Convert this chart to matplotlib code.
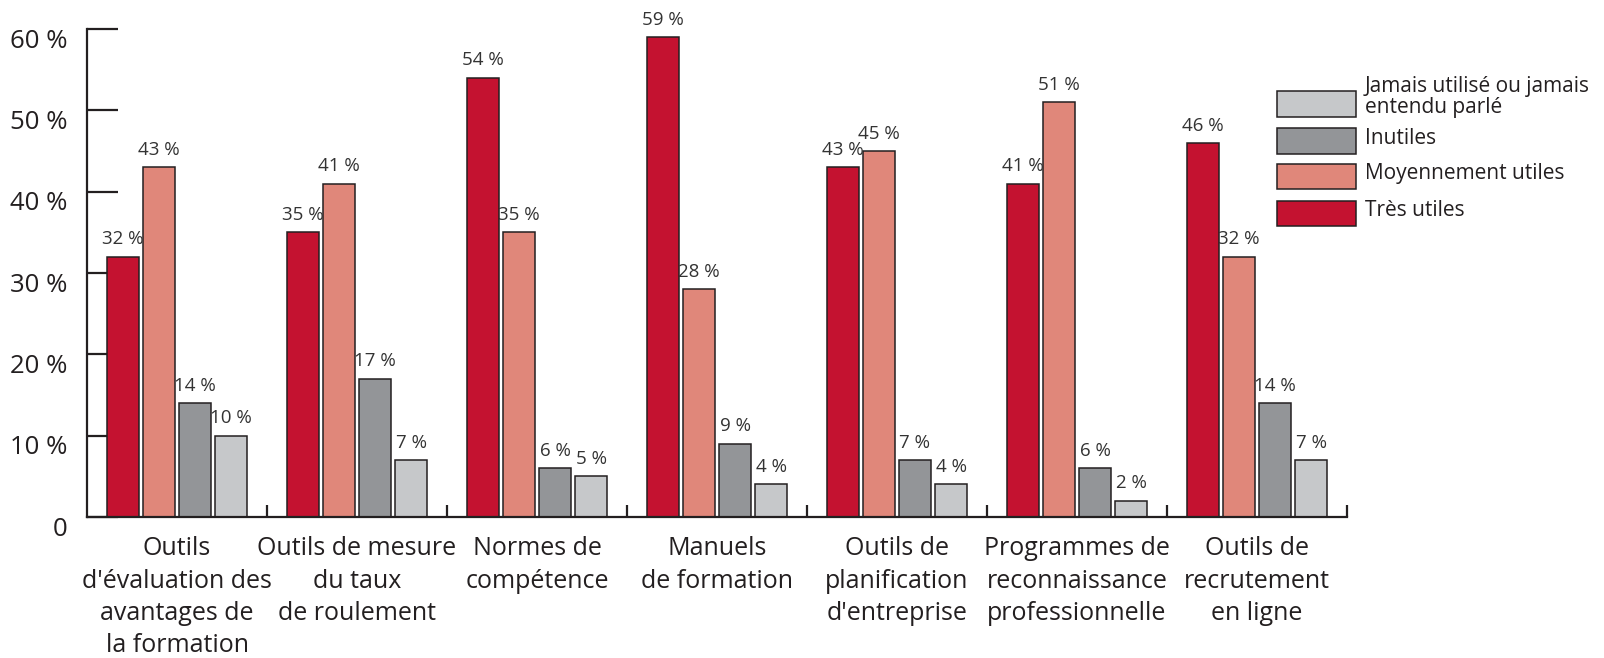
import numpy as np
import matplotlib
matplotlib.use('Agg')
from matplotlib import pyplot as plt
from matplotlib import transforms
from matplotlib.patches import Rectangle

plt.rcParams['font.family'] = ['Open Sans', 'DejaVu Sans']

# data
categories = ["Outils\nd'évaluation des\navantages de\nla formation",
              "Outils de mesure\ndu taux\nde roulement",
              "Normes de\ncompétence",
              "Manuels\nde formation",
              "Outils de\nplanification\nd'entreprise",
              "Programmes de\nreconnaissance\nprofessionnelle",
              "Outils de\nrecrutement\nen ligne"]
series_names = ['Très utiles', 'Moyennement utiles', 'Inutiles',
                'Jamais utilisé ou jamais\nentendu parlé']
tres_utiles = [32, 35, 54, 59, 43, 41, 46]
moyennement = [43, 41, 35, 28, 45, 51, 32]
inutiles = [14, 17, 6, 9, 7, 6, 14]
jamais = [10, 7, 5, 4, 4, 2, 7]
yticks = [0, 10, 20, 30, 40, 50, 60]
ytick_labels = ['0', '10 %', '20 %', '30 %', '40 %', '50 %', '60 %']

colors = ['#C41230', '#E0877A', '#939598', '#C6C8CA']
dark = '#231F20'

fig = plt.figure(figsize=(16.04, 6.58), dpi=100)
ax = fig.add_axes([87/1604, 141/658, 1260/1604, 488/658])

x = np.arange(len(categories))
width = 0.178
for k, vals in enumerate([tres_utiles, moyennement, inutiles, jamais]):
    pos = x + 0.2*(k+1)
    ax.bar(pos, vals, width, color=colors[k], edgecolor=dark, linewidth=1.1, zorder=2)
    for p, v in zip(pos, vals):
        ax.annotate(f'{v} %', (p, v), xytext=(0, 6), textcoords='offset points',
                    ha='center', va='bottom', fontsize=13.5, color='#333333')

ax.set_xlim(0, len(categories))
ax.set_ylim(0, 60)

for s in ['top', 'right']:
    ax.spines[s].set_visible(False)
for s in ['left', 'bottom']:
    ax.spines[s].set_linewidth(1.6)
    ax.spines[s].set_color(dark)

# y axis: long inward ticks, labels a bit below the ticks
ax.set_yticks(yticks)
ax.set_yticklabels(ytick_labels, fontsize=18.5, color=dark)
ax.tick_params(axis='y', direction='in', length=22, width=1.6, color=dark, pad=14)
off = transforms.ScaledTranslation(0, -9/100, fig.dpi_scale_trans)
for lab in ax.get_yticklabels():
    lab.set_transform(lab.get_transform() + off)

# x axis: short separator ticks between groups, labels centred on groups
ax.set_xticks(np.arange(1, len(categories)+1))
ax.set_xticklabels([])
ax.tick_params(axis='x', which='major', direction='in', length=9, width=1.6, color=dark)
ax.set_xticks(x + 0.5, minor=True)
ax.set_xticklabels(categories, minor=True, fontsize=18, color=dark, linespacing=1.38)
ax.tick_params(axis='x', which='minor', length=0, pad=14)

# legend drawn by hand (reverse order, patch beside each label)
px = lambda v: v/1604
py = lambda v: 1 - v/658
legend_y = [104, 141, 177, 214]
for i, k in enumerate([3, 2, 1, 0]):
    cy = legend_y[i]
    fig.patches.append(Rectangle((px(1277), py(cy + 12.5)), px(79), 25/658,
                                 facecolor=colors[k], edgecolor=dark, linewidth=1.1,
                                 transform=fig.transFigure))
    ty = cy - 7 if k == 3 else cy - 3
    fig.text(px(1365), py(ty), series_names[k], fontsize=15, color=dark,
             ha='left', va='center', linespacing=0.95)

fig.savefig('out.png', dpi=100)
